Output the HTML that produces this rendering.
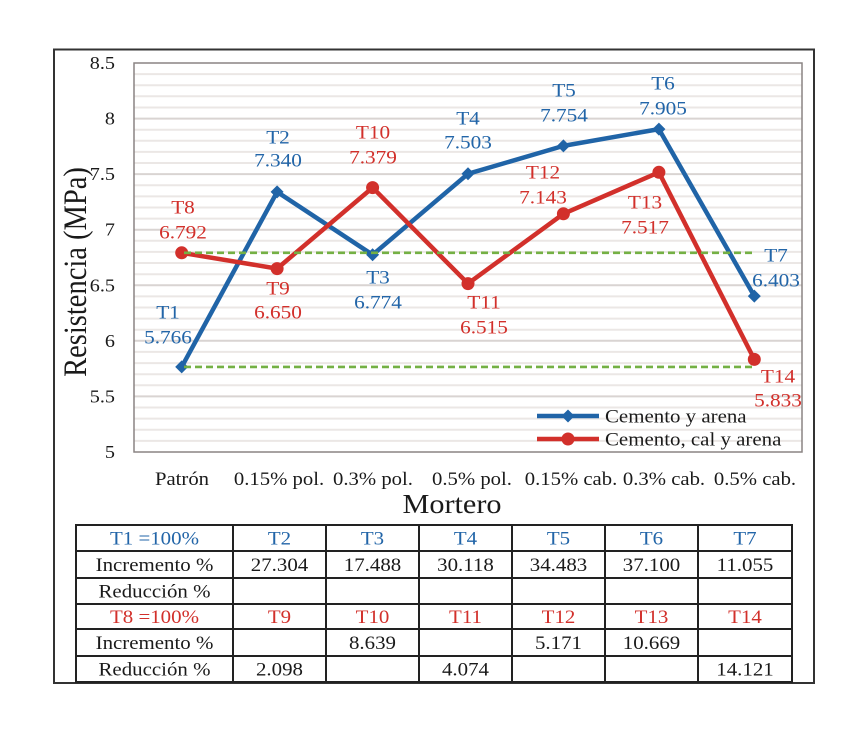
<!DOCTYPE html>
<html><head><meta charset="utf-8"><style>
html,body{margin:0;padding:0;background:#fff;}
svg{display:block;}
text{font-family:"Liberation Serif",serif;}
</style></head><body>
<svg width="868" height="733" viewBox="0 0 868 733" xmlns="http://www.w3.org/2000/svg">
<rect x="0" y="0" width="868" height="733" fill="#fff"/>
<!-- outer frame -->
<rect x="54" y="49.5" width="760" height="633.5" fill="none" stroke="#333" stroke-width="2"/>
<!-- gridlines -->
<g stroke-width="2">
<g stroke="#ebe7e5">
<line x1="134" x2="802" y1="74.1" y2="74.1"/><line x1="134" x2="802" y1="85.2" y2="85.2"/><line x1="134" x2="802" y1="96.3" y2="96.3"/><line x1="134" x2="802" y1="107.5" y2="107.5"/>
<line x1="134" x2="802" y1="129.7" y2="129.7"/><line x1="134" x2="802" y1="140.8" y2="140.8"/><line x1="134" x2="802" y1="151.9" y2="151.9"/><line x1="134" x2="802" y1="163.0" y2="163.0"/>
<line x1="134" x2="802" y1="185.2" y2="185.2"/><line x1="134" x2="802" y1="196.4" y2="196.4"/><line x1="134" x2="802" y1="207.5" y2="207.5"/><line x1="134" x2="802" y1="218.6" y2="218.6"/>
<line x1="134" x2="802" y1="240.8" y2="240.8"/><line x1="134" x2="802" y1="251.9" y2="251.9"/><line x1="134" x2="802" y1="263.0" y2="263.0"/><line x1="134" x2="802" y1="274.2" y2="274.2"/>
<line x1="134" x2="802" y1="296.4" y2="296.4"/><line x1="134" x2="802" y1="307.5" y2="307.5"/><line x1="134" x2="802" y1="318.6" y2="318.6"/><line x1="134" x2="802" y1="329.7" y2="329.7"/>
<line x1="134" x2="802" y1="351.9" y2="351.9"/><line x1="134" x2="802" y1="363.1" y2="363.1"/><line x1="134" x2="802" y1="374.2" y2="374.2"/><line x1="134" x2="802" y1="385.3" y2="385.3"/>
<line x1="134" x2="802" y1="407.5" y2="407.5"/><line x1="134" x2="802" y1="418.6" y2="418.6"/><line x1="134" x2="802" y1="429.8" y2="429.8"/><line x1="134" x2="802" y1="440.9" y2="440.9"/>
</g>
<g stroke="#d9d4d2">
<line x1="134" x2="802" y1="118.6" y2="118.6"/><line x1="134" x2="802" y1="174.1" y2="174.1"/><line x1="134" x2="802" y1="229.7" y2="229.7"/><line x1="134" x2="802" y1="285.3" y2="285.3"/><line x1="134" x2="802" y1="340.8" y2="340.8"/><line x1="134" x2="802" y1="396.4" y2="396.4"/>
</g>
</g>
<rect x="134" y="63" width="668" height="389" fill="none" stroke="#8a8483" stroke-width="1.5"/>

<!-- y ticks -->
<g font-size="18" fill="#1a1a1a" text-anchor="end">
<text transform="translate(115,69) scale(1.12,1)">8.5</text>
<text transform="translate(115,124.6) scale(1.12,1)">8</text>
<text transform="translate(115,180.1) scale(1.12,1)">7.5</text>
<text transform="translate(115,235.7) scale(1.12,1)">7</text>
<text transform="translate(115,291.3) scale(1.12,1)">6.5</text>
<text transform="translate(115,346.8) scale(1.12,1)">6</text>
<text transform="translate(115,402.4) scale(1.12,1)">5.5</text>
<text transform="translate(115,458) scale(1.12,1)">5</text>
</g>
<text transform="translate(86,272) scale(1.15,1) rotate(-90)" font-size="28.5" fill="#1a1a1a" text-anchor="middle">Resistencia (MPa)</text>

<!-- x labels -->
<g font-size="18.5" fill="#1a1a1a" text-anchor="middle">
<text transform="translate(182,485) scale(1.12,1)">Patrón</text>
<text transform="translate(279,485) scale(1.12,1)">0.15% pol.</text>
<text transform="translate(373,485) scale(1.12,1)">0.3% pol.</text>
<text transform="translate(472,485) scale(1.12,1)">0.5% pol.</text>
<text transform="translate(571,485) scale(1.12,1)">0.15% cab.</text>
<text transform="translate(664,485) scale(1.12,1)">0.3% cab.</text>
<text transform="translate(755,485) scale(1.12,1)">0.5% cab.</text>
</g>
<text transform="translate(452,513) scale(1.12,1)" font-size="27" fill="#1a1a1a" text-anchor="middle">Mortero</text>

<!-- blue series -->
<polyline points="181.7,366.9 277.1,191.9 372.6,254.8 468,173.8 563.4,145.9 658.9,129.1 754.3,296.1" fill="none" stroke="#2064a7" stroke-width="4.5" stroke-linejoin="round"/>
<g fill="#2064a7">
<polygon points="181.7,360.4 188.2,366.9 181.7,373.4 175.2,366.9"/>
<polygon points="277.1,185.4 283.6,191.9 277.1,198.4 270.6,191.9"/>
<polygon points="372.6,248.3 379.1,254.8 372.6,261.3 366.1,254.8"/>
<polygon points="468,167.3 474.5,173.8 468,180.3 461.5,173.8"/>
<polygon points="563.4,139.4 569.9,145.9 563.4,152.4 556.9,145.9"/>
<polygon points="658.9,122.6 665.4,129.1 658.9,135.6 652.4,129.1"/>
<polygon points="754.3,289.6 760.8,296.1 754.3,302.6 747.8,296.1"/>
</g>
<!-- red series -->
<polyline points="181.7,252.8 277.1,268.6 372.6,187.6 468,283.6 563.4,213.8 658.9,172.3 754.3,359.4" fill="none" stroke="#d2302b" stroke-width="4.5" stroke-linejoin="round"/>
<g fill="#d2302b">
<circle cx="181.7" cy="252.8" r="6.5"/><circle cx="277.1" cy="268.6" r="6.5"/><circle cx="372.6" cy="187.6" r="6.5"/><circle cx="468" cy="283.6" r="6.5"/><circle cx="563.4" cy="213.8" r="6.5"/><circle cx="658.9" cy="172.3" r="6.5"/><circle cx="754.3" cy="359.4" r="6.5"/>
</g>
<!-- green dashed -->
<g stroke="#74b044" stroke-width="2.6" stroke-dasharray="7 4">
<line x1="184" x2="754" y1="252.8" y2="252.8"/>
<line x1="184" x2="754" y1="366.9" y2="366.9"/>
</g>

<!-- data labels -->
<g font-size="19" fill="#2265a8" text-anchor="middle">
<text transform="translate(168,318.4) scale(1.12,1)">T1</text><text transform="translate(168,343.4) scale(1.12,1)">5.766</text>
<text transform="translate(278,143.4) scale(1.12,1)">T2</text><text transform="translate(278,166.4) scale(1.12,1)">7.340</text>
<text transform="translate(378,283.4) scale(1.12,1)">T3</text><text transform="translate(378,308.4) scale(1.12,1)">6.774</text>
<text transform="translate(468,124.4) scale(1.12,1)">T4</text><text transform="translate(468,148.4) scale(1.12,1)">7.503</text>
<text transform="translate(564,96.4) scale(1.12,1)">T5</text><text transform="translate(564,121.4) scale(1.12,1)">7.754</text>
<text transform="translate(663,89.4) scale(1.12,1)">T6</text><text transform="translate(663,114.4) scale(1.12,1)">7.905</text>
<text transform="translate(776,261.4) scale(1.12,1)">T7</text><text transform="translate(776,286.4) scale(1.12,1)">6.403</text>
</g>
<g font-size="19" fill="#d2302b" text-anchor="middle">
<text transform="translate(183,213.4) scale(1.12,1)">T8</text><text transform="translate(183,238.4) scale(1.12,1)">6.792</text>
<text transform="translate(278,294.4) scale(1.12,1)">T9</text><text transform="translate(278,318.4) scale(1.12,1)">6.650</text>
<text transform="translate(373,138.4) scale(1.12,1)">T10</text><text transform="translate(373,163.4) scale(1.12,1)">7.379</text>
<text transform="translate(484,308.4) scale(1.12,1)">T11</text><text transform="translate(484,333.4) scale(1.12,1)">6.515</text>
<text transform="translate(543,178.4) scale(1.12,1)">T12</text><text transform="translate(543,203.4) scale(1.12,1)">7.143</text>
<text transform="translate(645,208.4) scale(1.12,1)">T13</text><text transform="translate(645,233.4) scale(1.12,1)">7.517</text>
<text transform="translate(778,382.4) scale(1.12,1)">T14</text><text transform="translate(778,406.4) scale(1.12,1)">5.833</text>
</g>

<!-- legend -->
<line x1="537" x2="599" y1="416" y2="416" stroke="#2064a7" stroke-width="4.5"/>
<polygon points="568,409.5 574.5,416 568,422.5 561.5,416" fill="#2064a7"/>
<line x1="537" x2="599" y1="439" y2="439" stroke="#d2302b" stroke-width="4.5"/>
<circle cx="568" cy="439" r="6.5" fill="#d2302b"/>
<g font-size="19" fill="#1a1a1a">
<text transform="translate(605,422.5) scale(1.1,1)">Cemento y arena</text>
<text transform="translate(605,445.5) scale(1.1,1)">Cemento, cal y arena</text>
</g>

<!-- table -->
<g stroke="#222" stroke-width="2" fill="none">
<rect x="76" y="525" width="716" height="157"/>
<line x1="76" x2="792" y1="551" y2="551"/>
<line x1="76" x2="792" y1="578" y2="578"/>
<line x1="76" x2="792" y1="604" y2="604"/>
<line x1="76" x2="792" y1="629" y2="629"/>
<line x1="76" x2="792" y1="656" y2="656"/>
<line x1="233" x2="233" y1="525" y2="682"/>
<line x1="326" x2="326" y1="525" y2="682"/>
<line x1="419" x2="419" y1="525" y2="682"/>
<line x1="512" x2="512" y1="525" y2="682"/>
<line x1="605" x2="605" y1="525" y2="682"/>
<line x1="698" x2="698" y1="525" y2="682"/>
</g>
<g font-size="19" text-anchor="middle">
<g fill="#2265a8">
<text transform="translate(154.5,544.5) scale(1.1,1)">T1 =100%</text>
<text transform="translate(279.5,544.5) scale(1.1,1)">T2</text>
<text transform="translate(372.5,544.5) scale(1.1,1)">T3</text>
<text transform="translate(465.5,544.5) scale(1.1,1)">T4</text>
<text transform="translate(558.5,544.5) scale(1.1,1)">T5</text>
<text transform="translate(651.5,544.5) scale(1.1,1)">T6</text>
<text transform="translate(745,544.5) scale(1.1,1)">T7</text>
</g>
<g fill="#1a1a1a">
<text transform="translate(154.5,571) scale(1.1,1)">Incremento %</text>
<text transform="translate(279.5,571) scale(1.1,1)">27.304</text>
<text transform="translate(372.5,571) scale(1.1,1)">17.488</text>
<text transform="translate(465.5,571) scale(1.1,1)">30.118</text>
<text transform="translate(558.5,571) scale(1.1,1)">34.483</text>
<text transform="translate(651.5,571) scale(1.1,1)">37.100</text>
<text transform="translate(745,571) scale(1.1,1)">11.055</text>
<text transform="translate(154.5,597.5) scale(1.1,1)">Reducción %</text>
</g>
<g fill="#d2302b">
<text transform="translate(154.5,623) scale(1.1,1)">T8 =100%</text>
<text transform="translate(279.5,623) scale(1.1,1)">T9</text>
<text transform="translate(372.5,623) scale(1.1,1)">T10</text>
<text transform="translate(465.5,623) scale(1.1,1)">T11</text>
<text transform="translate(558.5,623) scale(1.1,1)">T12</text>
<text transform="translate(651.5,623) scale(1.1,1)">T13</text>
<text transform="translate(745,623) scale(1.1,1)">T14</text>
</g>
<g fill="#1a1a1a">
<text transform="translate(154.5,649) scale(1.1,1)">Incremento %</text>
<text transform="translate(372.5,649) scale(1.1,1)">8.639</text>
<text transform="translate(558.5,649) scale(1.1,1)">5.171</text>
<text transform="translate(651.5,649) scale(1.1,1)">10.669</text>
<text transform="translate(154.5,675.5) scale(1.1,1)">Reducción %</text>
<text transform="translate(279.5,675.5) scale(1.1,1)">2.098</text>
<text transform="translate(465.5,675.5) scale(1.1,1)">4.074</text>
<text transform="translate(745,675.5) scale(1.1,1)">14.121</text>
</g>
</g>
</svg>
</body></html>
